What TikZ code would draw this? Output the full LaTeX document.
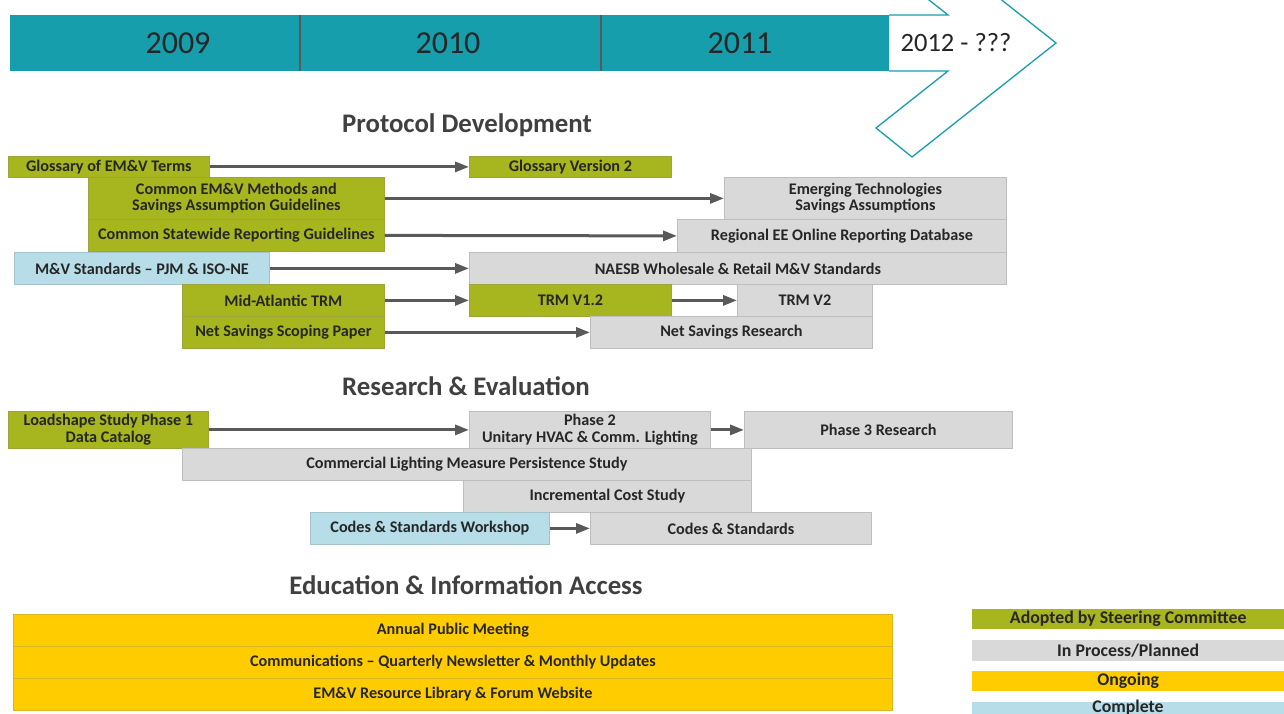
\documentclass[tikz,border=0pt]{standalone}
\usepackage{fontspec}
\setmainfont{Carlito}
\usetikzlibrary{arrows.meta}
\definecolor{tealbar}{RGB}{22,158,172}
\definecolor{olivebx}{RGB}{167,181,30}
\definecolor{graybx}{RGB}{217,217,217}
\definecolor{yelbx}{RGB}{255,204,0}
\definecolor{bluebx}{RGB}{183,222,232}
\definecolor{txt}{RGB}{38,38,38}
\definecolor{ttl}{RGB}{64,64,64}
\definecolor{arrgray}{RGB}{89,89,89}
\newcommand\mybox[7]{\node[bx=#2, anchor=north west, minimum width={(#5-#3)*1pt}, minimum height={(#6-#4)*1pt}] (#1) at (#3,#4) {#7};}
\tikzset{
  bx/.style={fill=#1, draw=#1!70!gray, line width=0.8pt, inner sep=0pt, align=center,
    font=\bfseries\fontsize{16.2}{16.5}\selectfont, text=txt},
  lg/.style={fill=#1, inner sep=0pt, anchor=north west, minimum width=312pt,
    font=\bfseries\fontsize{17.8}{18}\selectfont, text=txt},
  conn/.style={draw=arrgray, line width=3pt, -{Triangle[length=14pt,width=10pt]}},
  ttlstyle/.style={font=\bfseries\fontsize{26.8}{28}\selectfont, text=ttl},
  yr/.style={font=\fontsize{32}{34}\selectfont, text=txt}
}
\begin{document}
\begin{tikzpicture}[x=1pt,y=-1pt]
\useasboundingbox (0,0) rectangle (1284,714);
\clip (0,0) rectangle (1284,714);
\fill[white] (0,0) rectangle (1284,714);
% timeline
\draw[tealbar, line width=1.3pt, fill=white] (889,15) -- (948,15) -- (876,-42) -- (912,-71) -- (1056,43) -- (912,157) -- (876,128) -- (948,71) -- (889,71);
\fill[tealbar] (10,15) rectangle (889,71);
\draw[black!65, line width=2pt] (300,15) -- (300,71) (601,15) -- (601,71);
\node[yr] (y09) at (178,43) {2009};
\node[yr] (y10) at (448,43) {2010};
\node[yr] (y11) at (740,43) {2011};
\node[font=\fontsize{26.5}{28}\selectfont, text=txt] (y12) at (956,43) {2012 - ???};
% titles
\node[ttlstyle] (t1) at (467,125) {Protocol Development};
\node[ttlstyle] (t2) at (466,386) {Research \& Evaluation};
\node[ttlstyle] (t3) at (466,585) {Education \& Information Access};
% protocol development
\mybox{glos}{olivebx}{8}{156}{209}{177}{Glossary of EM\&V Terms}
\mybox{glos2}{olivebx}{469}{156}{671}{177}{Glossary Version 2}
\mybox{cemv}{olivebx}{88}{177}{384}{219}{Common EM\&V Methods and\\Savings Assumption Guidelines}
\mybox{emerg}{graybx}{724}{177}{1006}{219}{Emerging Technologies\\Savings Assumptions}
\mybox{csrg}{olivebx}{88}{219}{384}{251}{Common Statewide Reporting Guidelines}
\mybox{reg}{graybx}{677}{219}{1006}{252}{Regional EE Online Reporting Database}
\mybox{mv}{bluebx}{14}{252}{269}{284}{M\&V Standards -- PJM \& ISO-NE}
\mybox{naesb}{graybx}{469}{252}{1006}{284}{NAESB Wholesale \& Retail M\&V Standards}
\mybox{mat}{olivebx}{182}{284}{384}{316}{Mid-Atlantic TRM}
\mybox{trmb}{graybx}{737}{284}{872}{316}{TRM V2}
\mybox{trma}{olivebx}{469}{284}{671}{316}{TRM V1.2}
\mybox{nssp}{olivebx}{182}{316}{384}{348}{Net Savings Scoping Paper}
\mybox{nsr}{graybx}{590}{316}{872}{348}{Net Savings Research}
\draw[conn] (glos.east) -- (glos2.west);
\draw[conn] (cemv.east) -- (emerg.west);
\draw[conn] (csrg.east) -- (reg.west);
\draw[conn] (mv.east) -- (naesb.west);
\draw[conn] (mat.east) -- (trma.west);
\draw[conn] (trma.east) -- (trmb.west);
\draw[conn] (nssp.east) -- (nsr.west);
% research
\mybox{load}{olivebx}{8}{411}{208}{448}{Loadshape Study Phase 1\\Data Catalog}
\mybox{ph2}{graybx}{469}{411}{710}{448}{Phase 2\\Unitary HVAC \& Comm. Lighting}
\mybox{ph3}{graybx}{744}{411}{1012}{448}{Phase 3 Research}
\mybox{clmp}{graybx}{182}{448}{751}{480}{Commercial Lighting Measure Persistence Study}
\mybox{ics}{graybx}{463}{480}{751}{512}{Incremental Cost Study}
\mybox{csw}{bluebx}{310}{512}{549}{544}{Codes \& Standards Workshop}
\mybox{cs}{graybx}{590}{512}{871}{544}{Codes \& Standards}
\draw[conn] (load.east) -- (ph2.west);
\draw[conn] (ph2.east) -- (ph3.west);
\draw[conn] (csw.east) -- (cs.west);
% education
\mybox{apm}{yelbx}{13}{614}{892}{646}{Annual Public Meeting}
\mybox{comm}{yelbx}{13}{646}{892}{678}{Communications -- Quarterly Newsletter \& Monthly Updates}
\mybox{lib}{yelbx}{13}{678}{892}{710}{EM\&V Resource Library \& Forum Website}
% legend
\node[lg=olivebx, minimum height=20pt] (l1) at (972,609) {Adopted by Steering Committee};
\node[lg=graybx, minimum height=21pt] (l2) at (972,640) {In Process/Planned};
\node[lg=yelbx, minimum height=20pt] (l3) at (972,671) {Ongoing};
\fill[bluebx] (972,702) rectangle (1284,714);
\node[anchor=base, inner sep=0pt, font=\bfseries\fontsize{17.8}{18}\selectfont, text=txt] (l4) at (1128,712) {Complete};
\end{tikzpicture}
\end{document}
